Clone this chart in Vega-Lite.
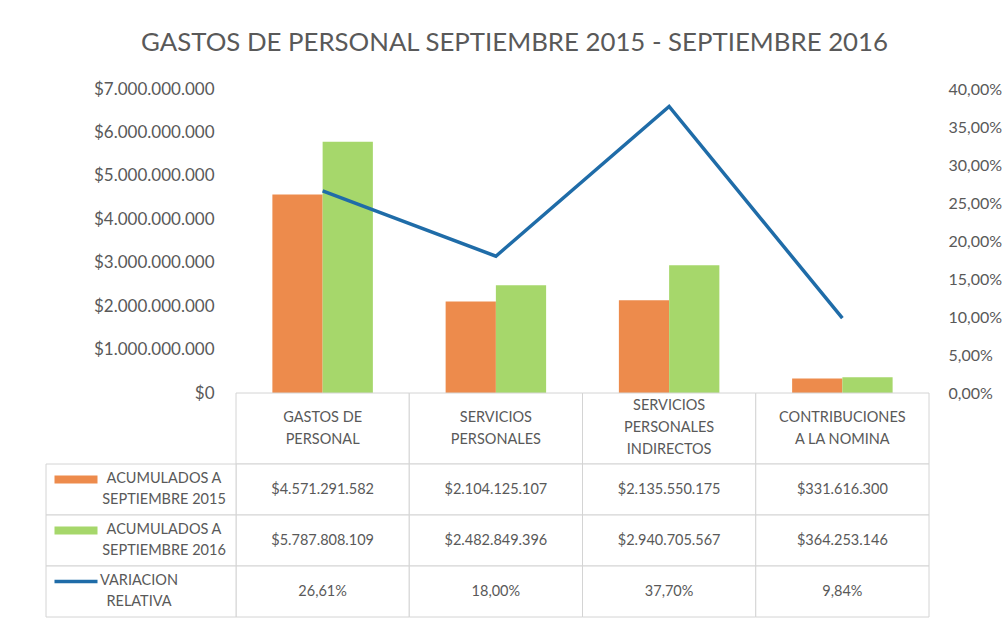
{
  "$schema": "https://vega.github.io/schema/vega-lite/v6.json",
  "padding": {"left": 45, "top": 30, "right": 5, "bottom": 5},
  "bounds": "flush",
  "spacing": 0,
  "config": {
    "font": "Lato",
    "locale": {"number": {"decimal": ",", "thousands": ".", "grouping": [3], "currency": ["$", ""]}},
    "view": {"stroke": null},
    "axis": {"labelColor": "#595959", "labelFont": "Lato"}
  },
  "title": {
    "text": "GASTOS DE PERSONAL SEPTIEMBRE 2015 - SEPTIEMBRE 2016",
    "fontSize": 25.8,
    "fontWeight": "normal",
    "color": "#595959",
    "anchor": "middle",
    "offset": 23,
    "dx": -9
  },
  "datasets": {
    "gastos": [
      {"cat": "GASTOS DE\nPERSONAL", "a2015": 4571291582, "a2016": 5787808109, "var": 0.2661},
      {"cat": "SERVICIOS\nPERSONALES", "a2015": 2104125107, "a2016": 2482849396, "var": 0.18},
      {"cat": "SERVICIOS\nPERSONALES\nINDIRECTOS", "a2015": 2135550175, "a2016": 2940705567, "var": 0.377},
      {"cat": "CONTRIBUCIONES\nA LA NOMINA", "a2015": 331616300, "a2016": 364253146, "var": 0.0984}
    ],
    "filas": [
      {"fila": "a2015", "rotulo": "ACUMULADOS A\nSEPTIEMBRE 2015"},
      {"fila": "a2016", "rotulo": "ACUMULADOS A\nSEPTIEMBRE 2016"},
      {"fila": "var", "rotulo": "VARIACION\nRELATIVA"}
    ]
  },
  "vconcat": [
    {
      "width": 883,
      "height": 304,
      "data": {"name": "gastos"},
      "layer": [
        {
          "transform": [{"fold": ["a2015", "a2016"], "as": ["serie", "monto"]}],
          "mark": {"type": "bar"},
          "encoding": {
            "x": {"field": "cat", "type": "nominal", "sort": null,
                  "scale": {"range": [190, 883], "paddingInner": 0.42, "paddingOuter": 0.21},
                  "axis": null},
            "xOffset": {"field": "serie", "type": "nominal", "sort": ["a2015", "a2016"]},
            "y": {"field": "monto", "type": "quantitative",
                  "scale": {"domain": [0, 7000000000], "nice": false},
                  "axis": {"orient": "left", "format": "$,.0f",
                           "values": [0, 1000000000, 2000000000, 3000000000, 4000000000, 5000000000, 6000000000, 7000000000],
                           "offset": -190, "domain": false, "ticks": false, "grid": false,
                           "labelFontSize": 17, "labelPadding": 22, "title": null}},
            "color": {"field": "serie", "type": "nominal",
                      "scale": {"domain": ["a2015", "a2016"], "range": ["#ED8B4C", "#A6D76B"]},
                      "legend": null}
          }
        },
        {
          "mark": {"type": "line", "color": "#1F6CA8", "strokeWidth": 3.5},
          "encoding": {
            "x": {"field": "cat", "type": "nominal", "sort": null},
            "y": {"field": "var", "type": "quantitative",
                  "scale": {"domain": [0, 0.4], "nice": false},
                  "axis": {"orient": "right", "format": ".2%",
                           "values": [0, 0.05, 0.1, 0.15, 0.2, 0.25, 0.3, 0.35, 0.4],
                           "domain": false, "ticks": false, "grid": false,
                           "labelFontSize": 16, "labelPadding": 19, "title": null}}
          }
        }
      ],
      "resolve": {"scale": {"y": "independent"}}
    },
    {
      "width": 883,
      "height": 71,
      "data": {"name": "gastos"},
      "layer": [
        {
          "mark": {"type": "rect", "fill": "white", "stroke": "#D4D4D4", "strokeWidth": 1},
          "encoding": {
            "x": {"field": "cat", "type": "nominal", "sort": null,
                  "scale": {"range": [190, 883], "paddingInner": 0, "paddingOuter": 0},
                  "axis": null}
          }
        },
        {
          "transform": [{"filter": "length(split(datum.cat, '\\n')) == 2"}],
          "mark": {"type": "text", "lineBreak": "\n", "fontSize": 14.5, "lineHeight": 22, "color": "#595959", "dy": -11},
          "encoding": {
            "x": {"field": "cat", "type": "nominal", "sort": null},
            "text": {"field": "cat"}
          }
        },
        {
          "transform": [{"filter": "length(split(datum.cat, '\\n')) == 3"}],
          "mark": {"type": "text", "lineBreak": "\n", "fontSize": 14.5, "lineHeight": 22, "color": "#595959", "dy": -23},
          "encoding": {
            "x": {"field": "cat", "type": "nominal", "sort": null},
            "text": {"field": "cat"}
          }
        }
      ]
    },
    {
      "width": 883,
      "height": 153,
      "layer": [
        {
          "data": {"name": "gastos"},
          "transform": [{"fold": ["a2015", "a2016", "var"], "as": ["fila", "valor"]}],
          "layer": [
            {
              "mark": {"type": "rect", "fill": "white", "stroke": "#D4D4D4", "strokeWidth": 1},
              "encoding": {
                "x": {"field": "cat", "type": "nominal", "sort": null,
                      "scale": {"range": [190, 883], "paddingInner": 0, "paddingOuter": 0},
                      "axis": null},
                "y": {"field": "fila", "type": "nominal",
                      "scale": {"domain": ["a2015", "a2016", "var"], "paddingInner": 0, "paddingOuter": 0},
                      "axis": null}
              }
            },
            {
              "transform": [{"filter": "datum.fila != 'var'"}],
              "mark": {"type": "text", "fontSize": 14.5, "color": "#595959"},
              "encoding": {
                "x": {"field": "cat", "type": "nominal", "sort": null},
                "y": {"field": "fila", "type": "nominal"},
                "text": {"field": "valor", "type": "quantitative", "format": "$,.0f"}
              }
            },
            {
              "transform": [{"filter": "datum.fila == 'var'"}],
              "mark": {"type": "text", "fontSize": 14.5, "color": "#595959"},
              "encoding": {
                "x": {"field": "cat", "type": "nominal", "sort": null},
                "y": {"field": "fila", "type": "nominal"},
                "text": {"field": "valor", "type": "quantitative", "format": ".2%"}
              }
            }
          ]
        },
        {
          "data": {"name": "filas"},
          "layer": [
            {
              "mark": {"type": "rect", "fill": "white", "stroke": "#D4D4D4", "strokeWidth": 1},
              "encoding": {
                "x": {"datum": "serie", "type": "nominal",
                      "scale": {"domain": ["serie"], "range": [0, 190], "paddingInner": 0, "paddingOuter": 0},
                      "axis": null},
                "y": {"field": "fila", "type": "nominal"}
              }
            },
            {
              "transform": [{"filter": "datum.fila != 'var'"}],
              "mark": {"type": "bar", "width": 43, "height": 8, "xOffset": -65, "yOffset": -10},
              "encoding": {
                "x": {"datum": "serie", "type": "nominal"},
                "y": {"field": "fila", "type": "nominal"},
                "color": {"field": "fila", "type": "nominal",
                          "scale": {"domain": ["a2015", "a2016"], "range": ["#ED8B4C", "#A6D76B"]},
                          "legend": null}
              }
            },
            {
              "transform": [{"filter": "datum.fila == 'var'"}],
              "mark": {"type": "bar", "width": 43, "height": 3.5, "xOffset": -65, "yOffset": -10, "color": "#1F6CA8"},
              "encoding": {
                "x": {"datum": "serie", "type": "nominal"},
                "y": {"field": "fila", "type": "nominal"}
              }
            },
            {
              "transform": [{"filter": "datum.fila != 'var'"}],
              "mark": {"type": "text", "lineBreak": "\n", "fontSize": 14.5, "lineHeight": 21, "color": "#595959", "dx": 23, "dy": -10.5},
              "encoding": {
                "x": {"datum": "serie", "type": "nominal"},
                "y": {"field": "fila", "type": "nominal"},
                "text": {"field": "rotulo"}
              }
            },
            {
              "transform": [{"filter": "datum.fila == 'var'"}],
              "mark": {"type": "text", "lineBreak": "\n", "fontSize": 14.5, "lineHeight": 21, "color": "#595959", "dx": -2, "dy": -10.5},
              "encoding": {
                "x": {"datum": "serie", "type": "nominal"},
                "y": {"field": "fila", "type": "nominal"},
                "text": {"field": "rotulo"}
              }
            }
          ]
        }
      ],
      "resolve": {"scale": {"x": "independent"}}
    }
  ]
}
